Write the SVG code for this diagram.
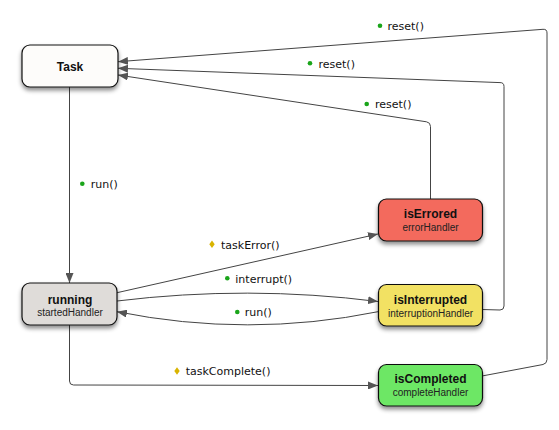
<svg xmlns="http://www.w3.org/2000/svg" width="559" height="430" viewBox="0 0 559 430">
<style>
.node rect{stroke:#111;stroke-width:1.2;filter:url(#sh)}
.t{font-family:"Liberation Sans",Arial,sans-serif;font-size:12px;font-weight:bold;fill:#111;text-anchor:middle}
.s{font-family:"Liberation Sans",Arial,sans-serif;font-size:10px;fill:#222;text-anchor:middle}
.e{fill:none;stroke:#444;stroke-width:1}
.ea{fill:none;stroke:#444;stroke-width:1;marker-end:url(#ah)}
.l{font-family:"DejaVu Sans",sans-serif;font-size:11px;fill:#111}
.dot{fill:#1aa51a}
.dia{fill:#d9b400}
</style>
<defs>
<filter id="sh" x="-20%" y="-20%" width="140%" height="160%">
<feDropShadow dx="0" dy="3" stdDeviation="2.2" flood-color="#000" flood-opacity="0.45"/>
</filter>
<marker id="ah" viewBox="0 0 10 8" refX="10" refY="4" markerWidth="10" markerHeight="8" markerUnits="userSpaceOnUse" orient="auto">
<path d="M0,0 L10,4 L0,8 Z" fill="#555"/>
</marker>
</defs>
<g id="connectors">
<path class="ea" d="M69.5,87 L69.5,283"/>
<path class="ea" d="M482,376 L543,364.5 Q547,363.5 547,359.5 L547,33 Q547,29 543,29.3 L118,61.7"/>
<path class="ea" d="M482,309.5 L500,310 Q504,310 504,306 L504,86.5 Q504,82.5 500,82.6 L118,68.3"/>
<path class="ea" d="M430.5,199 L430.5,126.5 Q430.5,122.5 426.5,121.8 L118,75"/>
<path class="ea" d="M117,292.7 L378,234"/>
<path class="ea" d="M117,301 Q248,285 378,301.5"/>
<path class="ea" d="M378,311.7 Q248,338 117,311.7"/>
<path class="ea" d="M69.5,325 L69.5,381 Q69.5,385 73.5,385 L378,385.5"/>
<circle class="dot" cx="380" cy="25.7" r="2.3"/>
<text class="l" x="387.5" y="30">reset()</text>
<circle class="dot" cx="310" cy="63.3" r="2.3"/>
<text class="l" x="318.5" y="67.5">reset()</text>
<circle class="dot" cx="366.7" cy="104" r="2.3"/>
<text class="l" x="375" y="108">reset()</text>
<circle class="dot" cx="82.3" cy="183.7" r="2.3"/>
<text class="l" x="90.7" y="188">run()</text>
<path class="dia" d="M212,240.5 L214.7,244.3 L212,248.1 L209.3,244.3 Z"/>
<text class="l" x="221" y="248.5">taskError()</text>
<circle class="dot" cx="227.3" cy="278.3" r="2.3"/>
<text class="l" x="235.3" y="282.5">interrupt()</text>
<circle class="dot" cx="237.3" cy="312" r="2.3"/>
<text class="l" x="244.7" y="316">run()</text>
<path class="dia" d="M177,367.2 L179.7,371 L177,374.8 L174.3,371 Z"/>
<text class="l" x="185.7" y="375.2">taskComplete()</text>
</g>
<g id="task" class="node">
<rect x="22" y="45" width="96" height="42" rx="8" fill="#fdfcfa"/>
<text class="t" x="70" y="70.5">Task</text>
</g>
<g id="running" class="node">
<rect x="22" y="283" width="95" height="42" rx="8" fill="#dfdcd9"/>
<text class="t" x="70" y="303.5">running</text>
<text class="s" x="70" y="316">startedHandler</text>
</g>
<g id="isErrored" class="node">
<rect x="378.5" y="199" width="104" height="42" rx="8" fill="#f36b5d"/>
<text class="t" x="430.5" y="217.5">isErrored</text>
<text class="s" x="430.5" y="230.5">errorHandler</text>
</g>
<g id="isInterrupted" class="node">
<rect x="378.5" y="284.5" width="104" height="41.5" rx="8" fill="#f2e164"/>
<text class="t" x="430.5" y="304">isInterrupted</text>
<text class="s" x="430.5" y="316.5">interruptionHandler</text>
</g>
<g id="isCompleted" class="node">
<rect x="378.5" y="364.5" width="104" height="41.5" rx="8" fill="#6de765"/>
<text class="t" x="430.5" y="383">isCompleted</text>
<text class="s" x="430.5" y="396">completeHandler</text>
</g>
</svg>
